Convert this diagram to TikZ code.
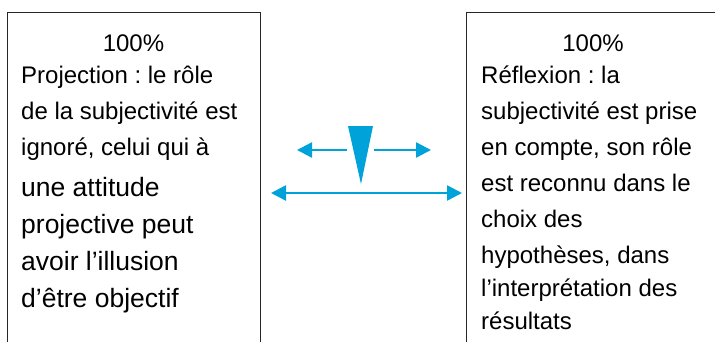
\documentclass[tikz,border=0pt]{standalone}
\usepackage{fontspec}
\setmainfont{Liberation Sans}
\usetikzlibrary{arrows.meta}
\definecolor{arrowblue}{HTML}{00A3D9}
\frenchspacing
\begin{document}
\begin{tikzpicture}[x=1pt,y=-1pt,
  boxframe/.style={draw=black!85, line width=1.2pt, rectangle, inner sep=0pt, anchor=north west},
  txt/.style={anchor=base west, inner sep=0pt, font=\fontsize{24}{28}\selectfont},
  bigtxt/.style={anchor=base west, inner sep=0pt, font=\fontsize{26.5}{30}\selectfont},
  head/.style={anchor=base, inner sep=0pt, font=\fontsize{24}{28}\selectfont},
  both/.style={draw=arrowblue, line width=2.4pt, {Triangle[length=15pt,width=15pt]}-{Triangle[length=15pt,width=15pt]}},
  oneway/.style={draw=arrowblue, line width=2.4pt, -{Triangle[length=15pt,width=15pt]}}]
\clip (0,0) rectangle (715,341);
\fill[white] (0,0) rectangle (715,341);

% two open-bottom frames
\node[boxframe, minimum width=253pt, minimum height=400pt] (leftbox) at (7,12) {};
\node[boxframe, minimum width=254pt, minimum height=400pt] (rightbox) at (466,12) {};

% left column
\node[head] (l0) at (133.5,51) {100\%};
\node[txt] (l1) at (21,83) {Projection : le rôle};
\node[txt] (l2) at (21,119) {de la subjectivité est};
\node[txt] (l3) at (21,155) {ignoré, celui qui à};
\node[bigtxt] (l4) at (21,196) {une attitude};
\node[bigtxt] (l5) at (21,233) {projective peut};
\node[bigtxt] (l6) at (21,270) {avoir l’illusion};
\node[bigtxt] (l7) at (21,307) {d’être objectif};

% right column
\node[head] (r0) at (593,51) {100\%};
\node[txt] (r1) at (481,83) {Réflexion : la};
\node[txt] (r2) at (481,119) {subjectivité est prise};
\node[txt] (r3) at (481,155) {en compte, son rôle};
\node[txt] (r4) at (481,191) {est reconnu dans le};
\node[txt] (r5) at (481,227) {choix des};
\node[txt] (r6) at (481,263) {hypothèses, dans};
\node[txt] (r7) at (481,296) {l’interprétation des};
\node[txt] (r8) at (481,329) {résultats};

% arrows between the columns
\coordinate (wl) at (348,126);
\coordinate (wr) at (373,126);
\coordinate (wb) at (361,184);
\fill[arrowblue] (wl) -- (wr) -- (wb) -- cycle;

\coordinate (sa0) at (347,150);
\coordinate (sa1) at (297,150);
\coordinate (sb0) at (374,150);
\coordinate (sb1) at (431,150);
\draw[oneway] (sa0) -- (sa1);
\draw[oneway] (sb0) -- (sb1);

\coordinate (la) at (271,193);
\coordinate (ra) at (462,193);
\draw[both] (la) -- (ra);
\end{tikzpicture}
\end{document}
